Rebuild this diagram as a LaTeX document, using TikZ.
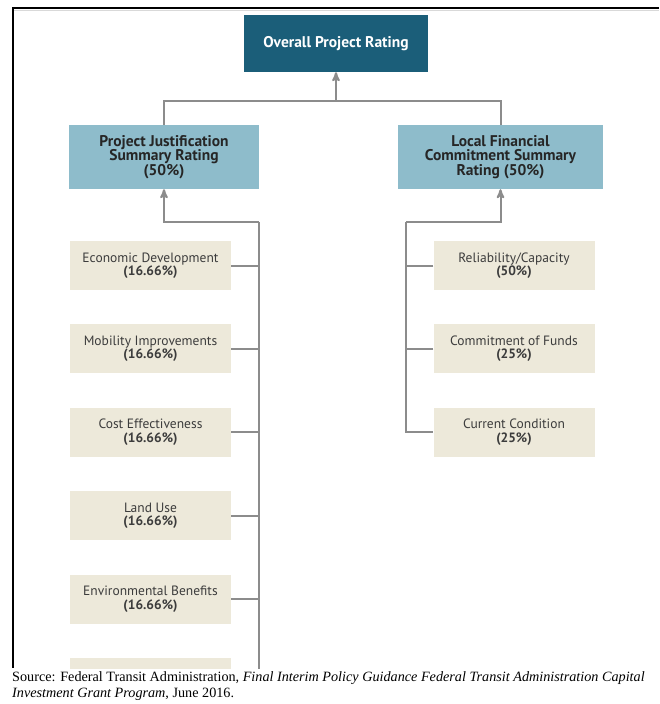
\documentclass[tikz,border=0pt]{standalone}
\usepackage{fontspec}
\setmainfont{Liberation Serif}
\newfontfamily\boxfont{PT Sans}
\usetikzlibrary{arrows,positioning}

\definecolor{ratingteal}{HTML}{1B5E79}
\definecolor{summaryblue}{HTML}{8EBCCB}
\definecolor{measurebeige}{HTML}{EDE9DA}
\definecolor{linkgray}{HTML}{8C8C8C}
\definecolor{measuretext}{HTML}{3C3C3C}

\begin{document}
\begin{tikzpicture}[x=1pt,y=-1pt,>=stealth',node distance=34pt]

	\tikzstyle{overall}=[rectangle,fill=ratingteal,text=white,inner sep=0pt,minimum width=184pt,minimum height=57pt,font=\boxfont\bfseries\fontsize{15.5}{17}\selectfont]
	\tikzstyle{summary}=[rectangle,fill=summaryblue,text=black!85,inner sep=0pt,minimum height=64pt,align=center,font=\boxfont\bfseries\fontsize{15.5}{14.5}\selectfont]
	\tikzstyle{measure}=[rectangle,fill=measurebeige,text=measuretext,inner sep=0pt,minimum width=161pt,minimum height=49pt,align=center,font=\boxfont\fontsize{13.5}{13.5}\selectfont]
	\tikzstyle{link}=[draw=linkgray,line width=2pt]

	\useasboundingbox (0,0) rectangle (659,704);

	% frame
	\draw [black!15,line width=1.5pt] (14,10.5) -- (659,10.5);
	\draw [black,line width=2pt] (12,8) -- (659,8);
	\draw [black,line width=1.5pt] (13,8) -- (13,668);

	\begin{scope}
		\clip (14,9) rectangle (659,668);

		\node [overall] (overall) at (336,43.5) {Overall Project Rating};
		\node [summary,minimum width=190pt] (pjsum) at (164,157) {Project Justification\\Summary Rating\\(50\%)};
		\node [summary,minimum width=205pt] (lfsum) at (500.5,157) {Local Financial\\Commitment Summary\\Rating (50\%)};

		% project justification measures
		\node [measure] (econ) at (150.5,265.5) {Economic Development\\\textbf{(16.66\%)}};
		\node [measure] (mobil) [below=of econ] {Mobility Improvements\\\textbf{(16.66\%)}};
		\node [measure] (cost) [below=of mobil] {Cost Effectiveness\\\textbf{(16.66\%)}};
		\node [measure] (land) [below=of cost] {Land Use\\\textbf{(16.66\%)}};
		\node [measure] (envir) [below=of land] {Environmental Benefits\\\textbf{(16.66\%)}};
		\node [measure] (cong) [below=of envir] {Congestion Relief\\\textbf{(16.66\%)}};

		% local financial commitment measures
		\node [measure] (relia) at (514,265.5) {Reliability/Capacity\\\textbf{(50\%)}};
		\node [measure] (funds) [below=of relia] {Commitment of Funds\\\textbf{(25\%)}};
		\node [measure] (cond) [below=of funds] {Current Condition\\\textbf{(25\%)}};

		\coordinate (topknee) at (336,101);
		\coordinate (pjknee) at (259,222);
		\coordinate (pjend) at (259,700);
		\coordinate (lfknee) at (406,222);

		\draw [link,->] (topknee) -- (overall.south);
		\draw [link] (pjsum.north) -- (pjsum.north |- topknee) -- (lfsum.north |- topknee) -- (lfsum.north);

		\draw [link,->] (pjknee) -| (pjsum.south);
		\draw [link] (pjknee) -- (pjend);
		\foreach \m in {econ,mobil,cost,land,envir,cong}
			\draw [link] (\m.east) -- (\m.east -| pjknee);

		\draw [link,->] (lfknee) -| (lfsum.south);
		\draw [link] (lfknee) |- (cond.west);
		\foreach \m in {relia,funds}
			\draw [link] (\m.west) -- (\m.west -| lfknee);
	\end{scope}

	% source note
	\node [anchor=north west,inner sep=0pt,align=left,font=\fontsize{14.2}{16.5}\selectfont] (source) at (12,671)
		{Source: Federal Transit Administration, \textit{Final Interim Policy Guidance Federal Transit Administration Capital}\\
		\textit{Investment Grant Program}, June 2016.};
\end{tikzpicture}
\end{document}
